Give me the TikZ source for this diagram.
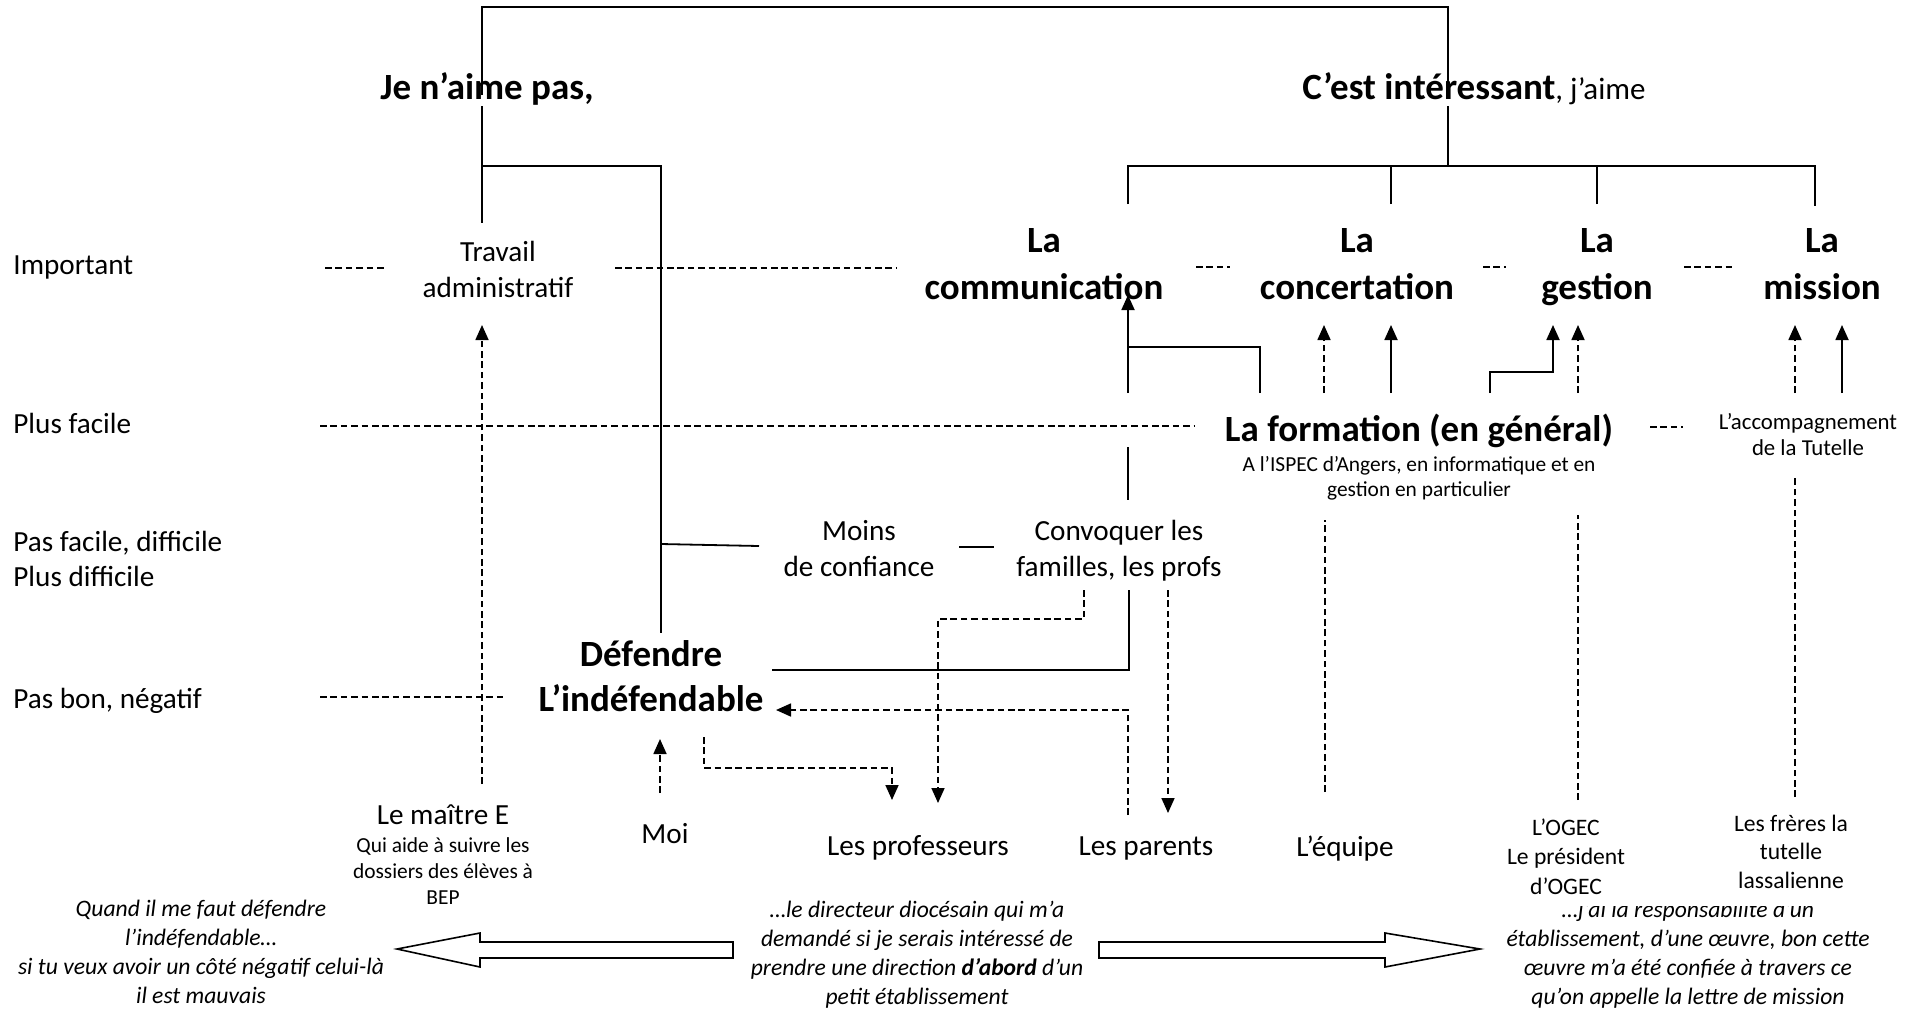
\documentclass[tikz,border=0pt]{standalone}
\usepackage{fontspec}
\setmainfont{Carlito}
\usetikzlibrary{arrows.meta}
\tikzset{
  ln/.style={line width=0.9pt},
  dl/.style={line width=0.85pt, dash pattern=on 3.3pt off 1.9pt},
  tip/.style={-{Triangle[length=7.5pt,width=6.5pt]}},
  blk/.style={line width=0.8pt, fill=white},
  lbl/.style={font=\fontsize{14.6}{17.5}\selectfont, anchor=base west, inner sep=0pt, align=left},
  txt/.style={font=\fontsize{14.6}{17.8}\selectfont, align=center, anchor=base, inner sep=0pt},
  head/.style={font=\fontsize{18.5}{23.5}\selectfont\bfseries, align=center, anchor=base, inner sep=0pt},
  sm/.style={font=\fontsize{10.7}{13}\selectfont, align=center, anchor=base, inner sep=0pt},
  acc/.style={font=\fontsize{11.4}{13}\selectfont, align=center, anchor=base, inner sep=0pt},
  org/.style={font=\fontsize{11.8}{14.6}\selectfont, align=center, anchor=base, inner sep=0pt},
  quote/.style={font=\fontsize{11.8}{14.35}\selectfont\itshape, align=center, anchor=base, inner sep=0pt},
}
\begin{document}
\begin{tikzpicture}[x=0.5pt,y=-0.5pt]
\useasboundingbox (0,0) rectangle (1928,1008);

% ---------- left level labels (base = baseline of last line)
\node[lbl] (lImp) at (13,274) {Important};
\node[lbl] (lFac) at (13,433) {Plus facile};
\node[lbl] (lDif) at (13,586) {Pas facile, difficile\\Plus difficile};
\node[lbl] (lNeg) at (13,708) {Pas bon, négatif};

% ---------- main nodes
\node[head] (jn) at (487,99) {Je n’aime pas,};
\node[head] (ci) at (1474,99) {C’est intéressant\mdseries\fontsize{15.5}{18}\selectfont, j’aime};
\node[txt] (trav) at (498,297) {Travail\\administratif};
\node[head] (comm) at (1044,299) {La\\communication};
\node[head] (conc) at (1357,299) {La\\concertation};
\node[head] (gest) at (1597,299) {La\\gestion};
\node[head] (miss) at (1822,299) {La\\mission};
\node[head] (form) at (1419,441) {La formation (en général)};
\node[sm] (formS) at (1419,496) {A l’ISPEC d’Angers, en informatique et en\\[-0.5pt]gestion en particulier};
\node[acc] (accomp) at (1808,455) {L’accompagnement\\de la Tutelle};
\node[txt] (moins) at (859,576) {Moins\\de confiance};
\node[txt] (conv) at (1119,576) {Convoquer les\\familles, les profs};
\node[head] (def) at (651,711) {Défendre\\[-1pt]L’indéfendable};
\node[txt] (maitre) at (443,824) {Le maître E};
\node[sm] (maitreS) at (443,904) {Qui aide à suivre les\\dossiers des élèves à\\BEP};
\node[txt] (moi) at (665,843) {Moi};
\node[txt] (profs) at (918,855) {Les professeurs};
\node[txt] (parents) at (1146,855) {Les parents};
\node[txt] (equipe) at (1345,856) {L’équipe};
\node[org] (ogec) at (1566,894) {L’OGEC\\Le président\\d’OGEC};
\node[org, font=\fontsize{11.8}{14.25}\selectfont] (freres) at (1791,888) {Les frères la\\tutelle\\lassalienne};

% ---------- quotes
\node[quote] (qL) at (201,1003) {Quand il me faut défendre\\l’indéfendable…\\si tu veux avoir un côté négatif celui-là\\il est mauvais};
\node[quote] (qM) at (917,1004) {…le directeur diocésain qui m’a\\demandé si je serais intéressé de\\prendre une direction \textbf{d’abord} d’un\\petit établissement};
\begin{scope}
  \clip (1440,906) rectangle (1928,1008);
  \node[quote] (qR) at (1688,1004) {…j’ai la responsabilité d’un\\établissement, d’une œuvre, bon cette\\œuvre m’a été confiée à travers ce\\qu’on appelle la lettre de mission};
\end{scope}

% ---------- block arrows
\draw[blk] (733,942) -- (480,942) -- (480,933) -- (397,949) -- (480,967) -- (480,958) -- (733,958) -- cycle;
\draw[blk] (1099,942) -- (1385,942) -- (1385,933) -- (1480,949) -- (1385,967) -- (1385,958) -- (1099,958) -- cycle;

% ---------- connector end points
\coordinate (jnT) at (482,95);   \coordinate (ciT) at (1448,95);
\coordinate (jnB) at (482,106);  \coordinate (travT) at (482,223);
\coordinate (jnBr) at (482,166); \coordinate (defT) at (661,633);
\coordinate (defL) at (661,544); \coordinate (moinsW) at (759,546);
\coordinate (moinsE) at (959,547); \coordinate (convW) at (994,547);
\coordinate (ciB) at (1448,106); \coordinate (ciBr) at (1448,166);
\coordinate (commT) at (1128,204); \coordinate (concT) at (1391,204);
\coordinate (gestT) at (1597,204); \coordinate (missT) at (1815,206);
\coordinate (commB) at (1128,295); \coordinate (convN) at (1128,393);
\coordinate (convU1) at (1128,447); \coordinate (convU2) at (1128,500);
\coordinate (convB) at (1129,590); \coordinate (defE) at (772,670);
\coordinate (formCommS) at (1260,393); \coordinate (commJ) at (1128,347);
\coordinate (formConc) at (1391,393); \coordinate (concB) at (1391,325);
\coordinate (formGest) at (1490,393); \coordinate (gestB) at (1553,325);
\coordinate (accMiss) at (1842,393); \coordinate (missB) at (1842,325);
\coordinate (eqConcS) at (1324,393); \coordinate (eqConcB) at (1324,325);
\coordinate (equipeN) at (1325,792); \coordinate (eqUp) at (1325,520);
\coordinate (ogGestS) at (1578,393); \coordinate (ogGestB) at (1578,325);
\coordinate (ogecN) at (1578,800); \coordinate (ogUp) at (1578,515);
\coordinate (frMissS) at (1795,393); \coordinate (frMissB) at (1795,325);
\coordinate (freresN) at (1795,797); \coordinate (frUp) at (1795,477);
\coordinate (maitreN) at (482,784); \coordinate (travB) at (482,325);
\coordinate (convP) at (1084,590); \coordinate (profsN2) at (938,803);
\coordinate (convQ) at (1168,590); \coordinate (parentsN) at (1168,813);
\coordinate (parentsU) at (1128,815); \coordinate (defE2) at (776,710);
\coordinate (defB) at (704,737); \coordinate (profsN1) at (892,800);
\coordinate (moiN) at (660,793); \coordinate (defB2) at (660,739);

% ---------- solid connectors
\draw[ln] (jnT) -- ++(0,-88) -| (ciT);
\draw[ln] (jnB) -- (travT);
\draw[ln] (jnBr) -| (defT);
\draw[ln] (defL) -- (moinsW);
\draw[ln] (moinsE) -- (convW);
\draw[ln] (ciB) -- (ciBr);
\draw[ln] (commT) |- (ciBr) -| (missT);
\draw[ln] (concT) -- (concT |- ciBr);
\draw[ln] (gestT) -- (gestT |- ciBr);
\draw[ln,tip] (convN) -- (commB);
\draw[ln] (convU1) -- (convU2);
\draw[ln] (convB) |- (defE);
\draw[ln] (formCommS) |- (commJ);
\draw[ln,tip] (formConc) -- (concB);
\draw[ln,tip] (formGest) -- ++(0,-21) -| (gestB);
\draw[ln,tip] (accMiss) -- (missB);

% ---------- dashed connectors
\draw[dl,tip] (eqConcS) -- (eqConcB);
\draw[dl] (equipeN) -- (eqUp);
\draw[dl,tip] (ogGestS) -- (ogGestB);
\draw[dl] (ogecN) -- (ogUp);
\draw[dl,tip] (frMissS) -- (frMissB);
\draw[dl] (freresN) -- (frUp);
\draw[dl,tip] (maitreN) -- (travB);
\draw[dl,tip] (convP) -- ++(0,29) -| (profsN2);
\draw[dl,tip] (convQ) -- (parentsN);
\draw[dl,tip] (parentsU) |- (defE2);
\draw[dl,tip] (defB) -- ++(0,31) -| (profsN1);
\draw[dl,tip] (moiN) -- (defB2);

% ---------- dashed level guides
\coordinate (gI1a) at (325,268); \coordinate (gI1b) at (384,268);
\coordinate (gI2a) at (615,268); \coordinate (gI2b) at (897,268);
\coordinate (gI3a) at (1196,267); \coordinate (gI3b) at (1230,267);
\coordinate (gI4a) at (1483,267); \coordinate (gI4b) at (1506,267);
\coordinate (gI5a) at (1684,267); \coordinate (gI5b) at (1732,267);
\coordinate (gF1a) at (320,426); \coordinate (gF1b) at (1195,426);
\coordinate (gF2a) at (1650,427); \coordinate (gF2b) at (1683,427);
\coordinate (gNa) at (320,697); \coordinate (gNb) at (507,697);
\draw[dl] (gI1a) -- (gI1b);
\draw[dl] (gI2a) -- (gI2b);
\draw[dl] (gI3a) -- (gI3b);
\draw[dl] (gI4a) -- (gI4b);
\draw[dl] (gI5a) -- (gI5b);
\draw[dl] (gF1a) -- (gF1b);
\draw[dl] (gF2a) -- (gF2b);
\draw[dl] (gNa) -- (gNb);
\end{tikzpicture}
\end{document}
